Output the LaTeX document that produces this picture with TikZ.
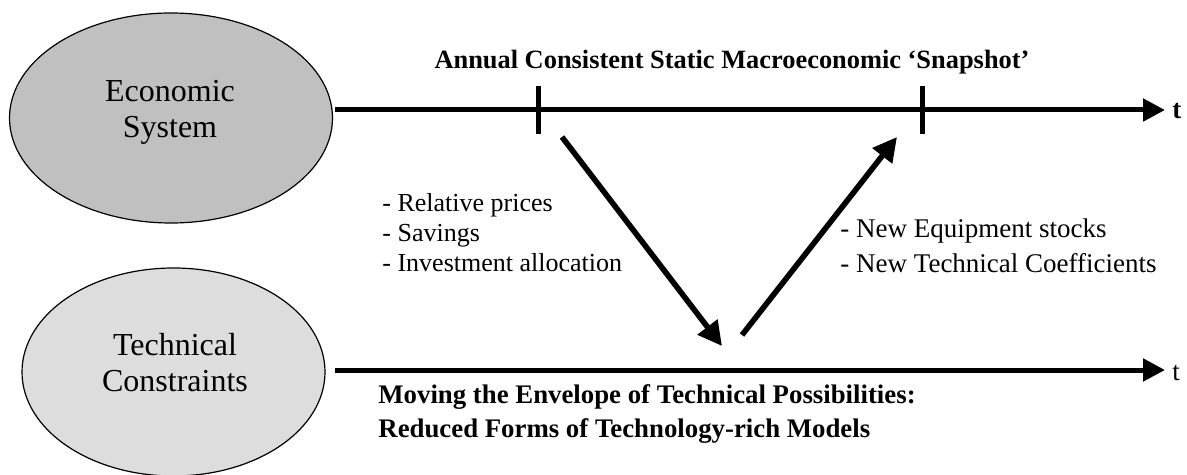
\documentclass[tikz,border=0pt]{standalone}
\usepackage{fontspec}
\setmainfont{Liberation Serif}
\usetikzlibrary{shapes.geometric,arrows.meta}
\pgfdeclarelayer{edgelayer}
\pgfdeclarelayer{nodelayer}
\pgfsetlayers{edgelayer,nodelayer,main}
\tikzset{font=\fontsize{13}{15}\selectfont}
\tikzstyle{none}=[inner sep=0pt]
\tikzstyle{sysdark}=[ellipse,draw,line width=0.6pt,fill={rgb,255:red,192;green,192;blue,192},minimum width=161.5pt,minimum height=105pt,inner sep=0pt]
\tikzstyle{syslight}=[ellipse,draw,line width=0.6pt,fill={rgb,255:red,221;green,221;blue,221},minimum width=151.5pt,minimum height=104pt,inner sep=0pt]
\tikzstyle{big}=[inner sep=0pt,align=center,font=\fontsize{16}{18}\selectfont]
\tikzstyle{lbl}=[inner sep=0pt,align=left,anchor=west]
\tikzstyle{timeline}=[line width=2.5pt,-{Triangle[length=11pt,width=11pt]}]
\tikzstyle{tickmark}=[line width=2.5pt]
\tikzstyle{flowarrow}=[line width=2.8pt,-{Triangle[length=12pt,width=12pt]}]

\begin{document}
\begin{tikzpicture}[x=25pt,y=25pt]
	\useasboundingbox (0,0) rectangle (23.74,-9.5);
	\begin{pgfonlayer}{nodelayer}
		\node [style=sysdark] (0) at (3.42, -2.36) {};
		\node [style=big] (1) at (3.4, -2.24) {Economic\\System};
		\node [style=syslight] (2) at (3.47, -7.44) {};
		\node [style=big] (3) at (3.5, -7.25) {Technical\\Constraints};
		\node [style=none] (4) at (6.7, -2.2) {};
		\node [style=none] (5) at (23.3, -2.2) {};
		\node [style=none] (6) at (6.7, -7.4) {};
		\node [style=none] (7) at (23.3, -7.4) {};
		\node [style=none, anchor=west, font=\fontsize{13.5}{15}\selectfont] (t1) at (23.44, -2.22) {\textbf{t}};
		\node [style=none, anchor=west, font=\fontsize{13.5}{15}\selectfont] (t2) at (23.44, -7.46) {t};
		\node [style=none] (8) at (10.76, -1.72) {};
		\node [style=none] (9) at (10.76, -2.68) {};
		\node [style=none] (10) at (18.44, -1.72) {};
		\node [style=none] (11) at (18.44, -2.68) {};
		\node [style=none] (12) at (11.24, -2.74) {};
		\node [style=none] (13) at (14.44, -6.92) {};
		\node [style=none] (14) at (14.84, -6.7) {};
		\node [style=none] (15) at (17.94, -2.74) {};
		\node [style=none, anchor=base, font=\fontsize{13.2}{15}\selectfont] (title) at (14.64, -1.38) {\textbf{Annual Consistent Static Macroeconomic ‘Snapshot’}};
		\node [style=lbl] (left) at (7.64, -4.66) {- Relative prices\\- Savings\\- Investment allocation};
		\node [style=lbl, font=\fontsize{13.5}{17.5}\selectfont] (right) at (16.8, -4.91) {- New Equipment stocks\\- New Technical Coefficients};
		\node [style=lbl, font=\fontsize{13.4}{17}\selectfont\bfseries] (bottom) at (7.56, -8.28) {Moving the Envelope of Technical Possibilities:\\Reduced Forms of Technology-rich Models};
	\end{pgfonlayer}
	\begin{pgfonlayer}{edgelayer}
		\draw [style=timeline] (4.center) to (5.center);
		\draw [style=timeline] (6.center) to (7.center);
		\draw [style=tickmark] (8.center) to (9.center);
		\draw [style=tickmark] (10.center) to (11.center);
		\draw [style=flowarrow] (12.center) to (13.center);
		\draw [style=flowarrow] (14.center) to (15.center);
	\end{pgfonlayer}
\end{tikzpicture}
\end{document}
